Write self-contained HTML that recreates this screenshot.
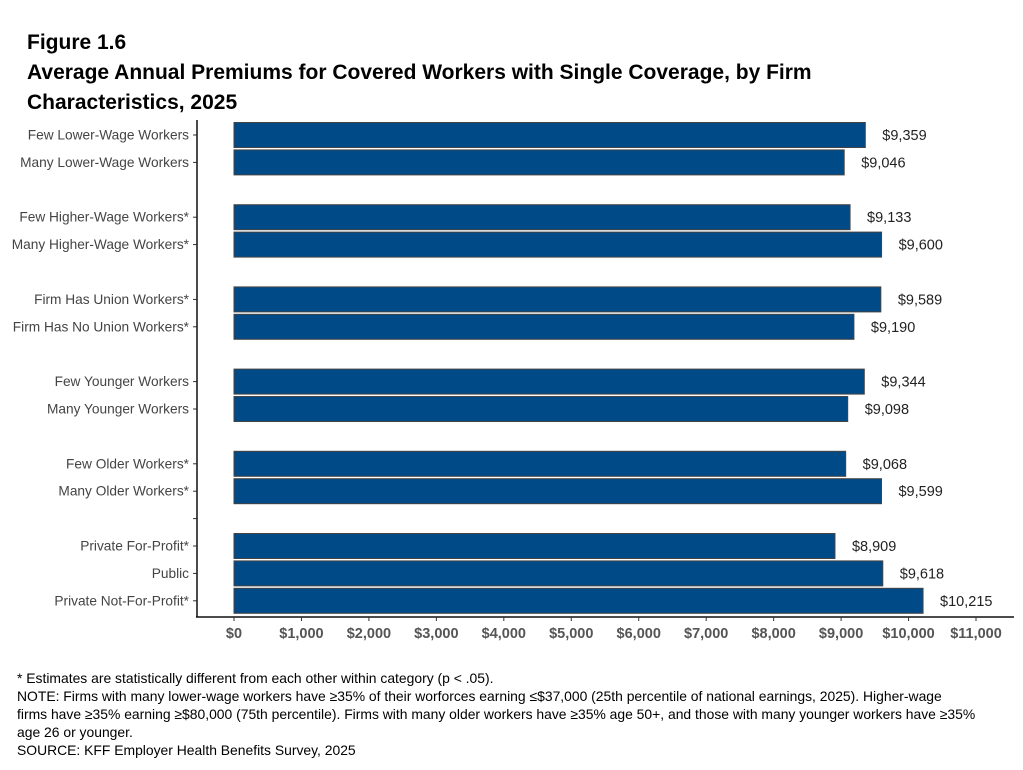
<!DOCTYPE html>
<html><head><meta charset="utf-8"><style>
body{margin:0;background:#fff;font-family:"Liberation Sans",Arial,sans-serif;}
#wrap{position:relative;width:1023px;height:770px;overflow:hidden;}
.t{position:absolute;left:27px;font-weight:bold;font-size:21px;color:#000;}
.n{position:absolute;left:17px;font-size:13.9px;color:#000;line-height:18px;}
</style></head><body>
<div id="wrap">
<div class="t" style="top:31px">Figure 1.6</div>
<div class="t" style="top:61px">Average Annual Premiums for Covered Workers with Single Coverage, by Firm</div>
<div class="t" style="top:91px">Characteristics, 2025</div>
<svg id="chart" width="1023" height="770" style="position:absolute;left:0;top:0"></svg>
<div class="n" style="top:669px">* Estimates are statistically different from each other within category (p &lt; .05).<br>NOTE: Firms with many lower-wage workers have ≥35% of their worforces earning ≤$37,000 (25th percentile of national earnings, 2025). Higher-wage<br>firms have ≥35% earning ≥$80,000 (75th percentile). Firms with many older workers have ≥35% age 50+, and those with many younger workers have ≥35%<br>age 26 or younger.<br>SOURCE: KFF Employer Health Benefits Survey, 2025</div>
</div>
<script>
const categories=["Few Lower-Wage Workers","Many Lower-Wage Workers","Few Higher-Wage Workers*","Many Higher-Wage Workers*","Firm Has Union Workers*","Firm Has No Union Workers*","Few Younger Workers","Many Younger Workers","Few Older Workers*","Many Older Workers*","Private For-Profit*","Public","Private Not-For-Profit*"];
const slots=[0,1,3,4,6,7,9,10,12,13,15,16,17];
const values=[9359,9046,9133,9600,9589,9190,9344,9098,9068,9599,8909,9618,10215];
const valueLabels=["$9,359","$9,046","$9,133","$9,600","$9,589","$9,190","$9,344","$9,098","$9,068","$9,599","$8,909","$9,618","$10,215"];
const xTicks=[0,1000,2000,3000,4000,5000,6000,7000,8000,9000,10000,11000];
const xTickLabels=["$0","$1,000","$2,000","$3,000","$4,000","$5,000","$6,000","$7,000","$8,000","$9,000","$10,000","$11,000"];
const svg=document.getElementById('chart');
const NS='http://www.w3.org/2000/svg';
const x=v=>234+v*(976-234)/11000;
const y=s=>135+s*27.4;
function mk(tag,attrs,parent){const e=document.createElementNS(NS,tag);for(const k in attrs)e.setAttribute(k,attrs[k]);(parent||svg).appendChild(e);return e;}
values.forEach((v,i)=>{
 const r=mk('rect',{x:x(0),y:y(slots[i])-12.5,width:x(v)-x(0),height:25,fill:'#004a87',stroke:'#444','stroke-width':1});
 
 
 const t=mk('text',{x:x(v)+17,y:y(slots[i])+5,'font-size':14.5,fill:'#222'});
 t.textContent=valueLabels[i];
 
 
 const c=mk('text',{x:189,y:y(slots[i])+4.5,'font-size':13.7,fill:'#444','text-anchor':'end'});
 c.textContent=categories[i];
 
 
 mk('line',{x1:193,x2:197,y1:y(slots[i]),y2:y(slots[i]),stroke:'#333'});
});
mk('line',{x1:193,x2:197,y1:y(14),y2:y(14),stroke:'#333'});
const ya=mk('line',{x1:197,x2:197,y1:120,y2:617,stroke:'#111','stroke-width':1.5});


const xa=mk('line',{x1:196,x2:1014,y1:617,y2:617,stroke:'#111','stroke-width':1.5});


xTicks.forEach((v,i)=>{
 mk('line',{x1:x(v),x2:x(v),y1:617,y2:621,stroke:'#333'});
 const t=mk('text',{x:x(v),y:638,'font-size':14.5,'font-weight':'bold',fill:'#555','text-anchor':'middle'});
 t.textContent=xTickLabels[i];
 
 
});
</script>
</body></html>
